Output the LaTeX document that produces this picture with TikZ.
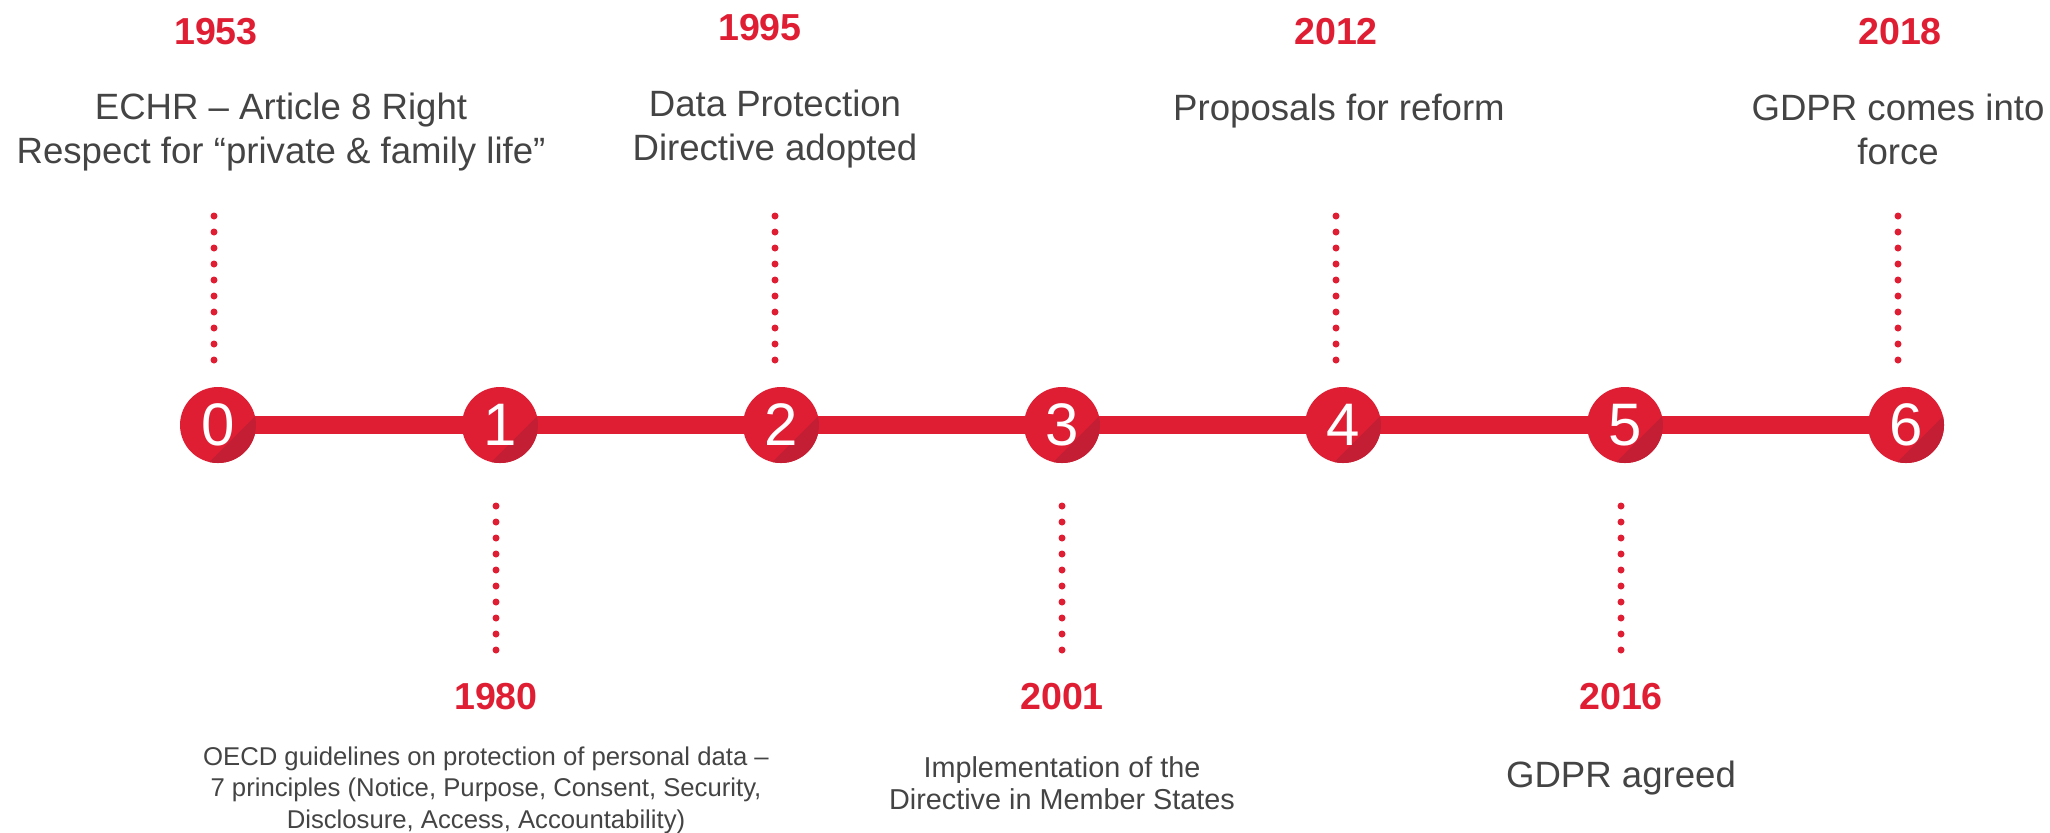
\documentclass[tikz,border=0pt]{standalone}
\usepackage{fontspec}
\setmainfont{Liberation Sans}
\usetikzlibrary{backgrounds}
\definecolor{tlred}{HTML}{E01E33}
\definecolor{tlreddark}{HTML}{C41E34}
\definecolor{tlgray}{HTML}{444444}
\tikzset{
  milestone/.style={circle, fill=tlred, minimum size=38pt, inner sep=0pt,
    text=white, font=\fontsize{30}{30}\selectfont,
    path picture={\fill[tlreddark] (path picture bounding box.center)
      ++(-45:10pt) ++(45:30pt) -- ++(225:60pt) -- ++(-45:30pt) -- ++(45:60pt) -- cycle;}},
  year/.style={text=tlred, font=\fontsize{18.8}{22}\selectfont\bfseries,
    anchor=base, inner sep=0pt},
  % multi-line texts are placed by the baseline of their last line
  desc/.style={text=tlgray, font=\fontsize{18.3}{22}\selectfont,
    align=center, anchor=base, inner sep=0pt},
  descsmall/.style={desc, font=\fontsize{14.4}{15.7}\selectfont},
  descnote/.style={desc, font=\fontsize{12.85}{15.7}\selectfont},
  track/.style={draw=tlred, line width=9pt},
  dots/.style={draw=tlred, line width=3.5pt, line cap=round,
    dash pattern=on 0pt off 8pt},
}
\begin{document}
\begin{tikzpicture}[x=0.5pt,y=-0.5pt]
\useasboundingbox (0,0) rectangle (2050,832);

% numbered milestones on the time line
\node[milestone] (c0) at (218,425) {0};
\node[milestone] (c1) at (500,425) {1};
\node[milestone] (c2) at (781,425) {2};
\node[milestone] (c3) at (1062,425) {3};
\node[milestone] (c4) at (1343,425) {4};
\node[milestone] (c5) at (1625,425) {5};
\node[milestone] (c6) at (1906,425) {6};
\begin{scope}[on background layer]
  \draw[track] (c0.center) -- (c6.center);
\end{scope}

% dotted leaders: above for even milestones, below for odd ones
\coordinate (d0a) at (214,216); \coordinate (d0b) at (214,360);
\coordinate (d2a) at (775,216); \coordinate (d2b) at (775,360);
\coordinate (d4a) at (1336,216); \coordinate (d4b) at (1336,360);
\coordinate (d6a) at (1898,216); \coordinate (d6b) at (1898,360);
\coordinate (d1a) at (496,506); \coordinate (d1b) at (496,650);
\coordinate (d3a) at (1062,506); \coordinate (d3b) at (1062,650);
\coordinate (d5a) at (1621,506); \coordinate (d5b) at (1621,650);
\foreach \k in {0,...,6} { \draw[dots] (d\k a) -- (d\k b); }

% years
\node[year] (y0) at (216,44) {1953};
\node[year] (y2) at (760,40) {1995};
\node[year] (y4) at (1336,44) {2012};
\node[year] (y6) at (1900,44) {2018};
\node[year] (y1) at (496,709) {1980};
\node[year] (y3) at (1062,709) {2001};
\node[year] (y5) at (1621,709) {2016};

% descriptions
\node[desc] (t0) at (281,163) {ECHR – Article 8 Right\\Respect for “private \& family life”};
\node[desc] (t2) at (775,160) {Data Protection\\Directive adopted};
\node[desc] (t4) at (1339,120) {Proposals for reform};
\node[desc] (t6) at (1898,164) {GDPR comes into\\force};
\node[descnote] (t1) at (486,828) {OECD guidelines on protection of personal data –\\7 principles (Notice, Purpose, Consent, Security,\\Disclosure, Access, Accountability)};
\node[descsmall] (t3) at (1062,809) {Implementation of the\\Directive in Member States};
\node[desc] (t5) at (1621,787) {GDPR agreed};
\end{tikzpicture}
\end{document}
